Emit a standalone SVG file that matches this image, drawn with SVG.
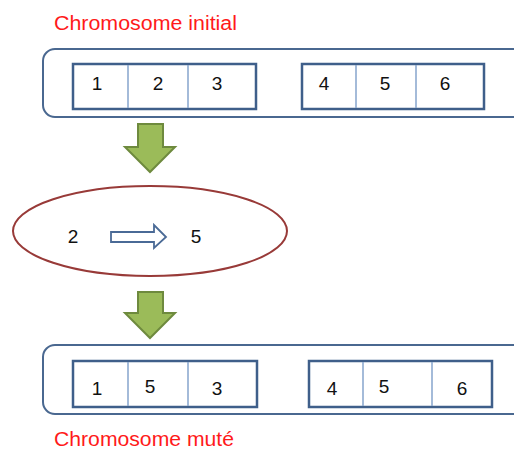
<svg xmlns="http://www.w3.org/2000/svg" width="514" height="451" viewBox="0 0 514 451">
<style>
.title{font-family:"Liberation Sans",Arial,sans-serif;font-size:20px;fill:#ff1a1a}
.num{font-family:"Liberation Sans",Arial,sans-serif;font-size:19px;fill:#111}
.cont{fill:#fff;stroke:#4a6890;stroke-width:2}
.box{fill:#fff;stroke:#3f5f8a;stroke-width:2.5}
.div{stroke:#86a4cc;stroke-width:1.5}
.green{fill:#9bbb59;stroke:#6e8a3e;stroke-width:2}
</style>
<rect width="514" height="451" fill="#fff"/>
<g id="title-initial"><text class="title" x="54" y="30" textLength="183" lengthAdjust="spacingAndGlyphs">Chromosome initial</text></g>
<g id="chromosome-initial">
<rect class="cont" x="43" y="49" width="490" height="68" rx="12"/>
<rect class="box" x="73" y="64" width="183" height="45"/>
<line class="div" x1="128" y1="65" x2="128" y2="108"/>
<line class="div" x1="188" y1="65" x2="188" y2="108"/>
<rect class="box" x="302" y="64" width="182" height="45"/>
<line class="div" x1="356" y1="65" x2="356" y2="108"/>
<line class="div" x1="416" y1="65" x2="416" y2="108"/>
<text class="num" x="97" y="90" text-anchor="middle">1</text>
<text class="num" x="158" y="90" text-anchor="middle">2</text>
<text class="num" x="217" y="90" text-anchor="middle">3</text>
<text class="num" x="324" y="90" text-anchor="middle">4</text>
<text class="num" x="385" y="90" text-anchor="middle">5</text>
<text class="num" x="445" y="90" text-anchor="middle">6</text>
</g>
<g id="connectors">
<polygon class="green" points="138,124 163,124 163,147 175,147 150,172 125,147 138,147"/>
<polygon class="green" points="138,292 163,292 163,313 175,313 150,338 125,313 138,313"/>
</g>
<g id="mutation">
<ellipse cx="150" cy="231" rx="137" ry="45" fill="#fff" stroke="#983a38" stroke-width="2"/>
<text class="num" x="73" y="243" text-anchor="middle">2</text>
<text class="num" x="196" y="243" text-anchor="middle">5</text>
<polygon points="111,232 154,232 154,225 166,237 154,248 154,242 111,242" fill="#fff" stroke="#4a6a96" stroke-width="1.8"/>
</g>
<g id="chromosome-mute">
<rect class="cont" x="43" y="345" width="490" height="69" rx="12"/>
<rect class="box" x="73" y="361" width="184" height="46"/>
<line class="div" x1="128" y1="362" x2="128" y2="406"/>
<line class="div" x1="188" y1="362" x2="188" y2="406"/>
<rect class="box" x="309" y="361" width="183" height="46"/>
<line class="div" x1="363" y1="362" x2="363" y2="406"/>
<line class="div" x1="432" y1="362" x2="432" y2="406"/>
<text class="num" x="97" y="395" text-anchor="middle">1</text>
<text class="num" x="150" y="393" text-anchor="middle">5</text>
<text class="num" x="217" y="395" text-anchor="middle">3</text>
<text class="num" x="332" y="395" text-anchor="middle">4</text>
<text class="num" x="384" y="393" text-anchor="middle">5</text>
<text class="num" x="462" y="395" text-anchor="middle">6</text>
</g>
<g id="title-mute"><text class="title" x="54" y="446" textLength="180" lengthAdjust="spacingAndGlyphs">Chromosome muté</text></g>
</svg>
